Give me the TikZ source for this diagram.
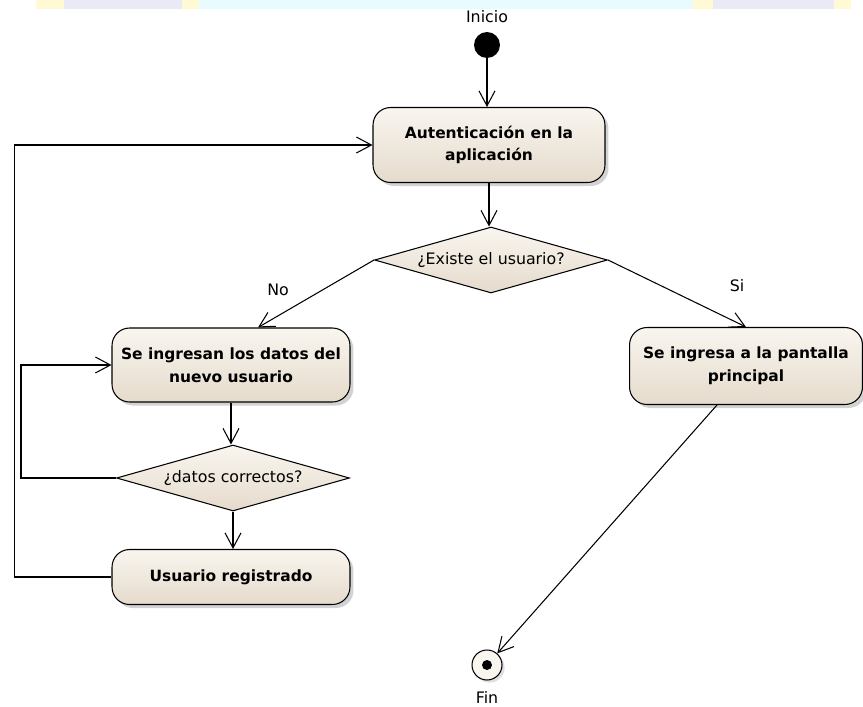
\documentclass[tikz,border=0pt]{standalone}
\usepackage{fontspec}
\setmainfont{DejaVu Sans}
\usetikzlibrary{shapes.geometric, arrows.meta, calc, shadows}
\definecolor{ActTop}{RGB}{249,245,239}
\definecolor{ActBot}{RGB}{229,219,204}
\definecolor{BandYel}{RGB}{255,250,212}
\definecolor{BandLav}{RGB}{234,234,246}
\definecolor{BandCya}{RGB}{232,252,255}

\begin{document}
\begin{tikzpicture}[x=0.02cm, y=-0.02cm,
          act/.style={rectangle, rounded corners=10pt, draw, line width=0.6pt,
                      top color=ActTop, bottom color=ActBot,
                      drop shadow={shadow xshift=2pt, shadow yshift=-2pt, fill=black!35},
                      font=\fontsize{8.8}{13}\selectfont\bfseries, align=center, inner sep=0pt},
          decision/.style={diamond, aspect=3.6, draw, line width=0.6pt,
                      top color=ActTop, bottom color=ActBot, inner sep=0pt,
                      minimum width=4.66cm, minimum height=1.32cm, font=\fontsize{9}{11}\selectfont},
          lbl/.style={font=\fontsize{9}{11}\selectfont},
          flow/.style={-{Straight Barb[length=3mm, width=3.2mm]}, line width=0.6pt}
        ]
        \useasboundingbox (0,0) rectangle (863,707);

        % faint band at the top
        \fill[BandYel] (36,0) rectangle (64,9);
        \fill[BandLav] (64,0) rectangle (182,9);
        \fill[BandYel] (182,0) rectangle (199,9);
        \fill[BandCya] (199,0) rectangle (693,9);
        \fill[BandYel] (693,0) rectangle (713,9);
        \fill[BandLav] (713,0) rectangle (834,9);
        \fill[BandYel] (834,0) rectangle (851,9);

        % start
        \node[lbl] (inicio_lbl) at (487,17) {Inicio};
        \node[circle, fill=black, minimum size=5.2mm, inner sep=0pt] (inicio) at (487,45) {};

        % main flow
        \node[act, minimum width=4.64cm, minimum height=1.5cm] (auth) at (489,145)
              {Autenticación en la\\aplicación};
        \node[decision] (existe) at (491,260) {¿Existe el usuario?};
        \node[lbl] (no_lbl) at (278,290) {No};
        \node[lbl] (si_lbl) at (737,286) {Si};

        % registro
        \node[act, minimum width=4.76cm, minimum height=1.48cm] (ingreso) at (231,365)
              {Se ingresan los datos del\\nuevo usuario};
        \node[decision] (datos) at (233,478) {¿datos correctos?};
        \node[act, minimum width=4.76cm, minimum height=1.1cm] (registrado) at (231,577)
              {Usuario registrado};

        % pantalla principal and end
        \node[act, minimum width=4.66cm, minimum height=1.54cm] (ppal) at (746,366)
              {Se ingresa a la pantalla\\principal};
        \node[circle, draw, line width=0.6pt, fill=ActTop, minimum size=6mm, inner sep=0pt,
              drop shadow={shadow xshift=1.5pt, shadow yshift=-1.5pt, fill=black!25}] (fin) at (487,665) {};
        \node[circle, fill=black, minimum size=2mm, inner sep=0pt] (fin_dot) at (fin.center) {};
        \node[lbl] (fin_lbl) at (487,697) {Fin};

        \draw[flow] (inicio) -- (inicio |- auth.north);
        \draw[flow] (auth.south) -- (auth.south |- existe.north);
        \draw[flow] (existe.west) -- ($(ingreso.north)+(27,0)$);
        \draw[flow] (existe.east) -- (ppal.north);
        \draw[flow] (ingreso.south) -- (ingreso.south |- datos.north);
        \draw[flow] (datos.west) -- ++(-95,0) |- (ingreso.west);
        \draw[flow] (datos.south) -- (datos.south |- registrado.north);
        \draw[flow] (registrado.west) -- ++(-97,0) |- (auth.west);
        \draw[flow] ($(ppal.south)+(-29,0)$) -- (fin);
      \end{tikzpicture}
\end{document}
